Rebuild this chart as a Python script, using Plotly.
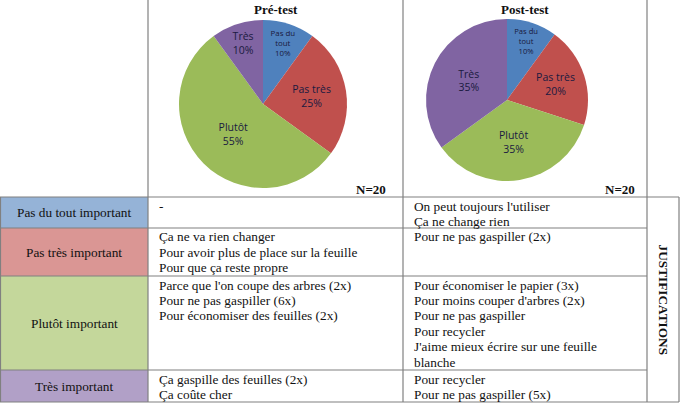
import plotly.graph_objects as go

W, H = 682, 410

# ---- data ----
slice_labels = ["Pas du<br>tout", "Pas très", "Plutôt", "Très"]
pre_values = [10, 25, 55, 10]
post_values = [10, 20, 35, 35]
pie_titles = ["Pré-test", "Post-test"]
n_label = "N=20"

row_labels = ["Pas du tout important", "Pas très important", "Plutôt important", "Très important"]
pre_just = [
    ["-"],
    ["Ça ne va rien changer", "Pour avoir plus de place sur la feuille", "Pour que ça reste propre"],
    ["Parce que l'on coupe des arbres (2x)", "Pour ne pas gaspiller (6x)", "Pour économiser des feuilles (2x)"],
    ["Ça gaspille des feuilles (2x)", "Ça coûte cher"],
]
post_just = [
    ["On peut toujours l'utiliser", "Ça ne change rien"],
    ["Pour ne pas gaspiller (2x)"],
    ["Pour économiser le papier (3x)", "Pour moins couper d'arbres (2x)", "Pour ne pas gaspiller",
     "Pour recycler", "J'aime mieux écrire sur une feuille", "blanche"],
    ["Pour recycler", "Pour ne pas gaspiller (5x)"],
]
side_label = "JUSTIFICATIONS"

# ---- style ----
pie_colors = ["#4F81BD", "#C0504D", "#9BBB59", "#8064A2"]
cell_colors = ["#95B3D7", "#DA9694", "#C4D79B", "#B1A0C7"]
border = "#808080"
serif = "Liberation Serif, Times New Roman, serif"
sans = "Open Sans, Liberation Sans, sans-serif"
txt_size = 13.3

def px(x):
    return x / W

def py(y):
    return 1 - y / H

# layout geometry (pixels)
col_x = [0, 148, 403, 647, 679]
row_y = [197, 228, 276, 370, 402]
line_h = 15.4

fig = go.Figure()

pie_geom = [((179, 347), (20, 188)), ((426, 588), (19, 181))]
for vals, (gx, gy) in zip([pre_values, post_values], pie_geom):
    fig.add_trace(go.Pie(
        values=vals, text=slice_labels, labels=["Pas du tout", "Pas très", "Plutôt", "Très"],
        sort=False, direction="clockwise", rotation=0,
        marker=dict(colors=pie_colors, line=dict(width=0)),
        texttemplate="%{text}<br>%{percent:.0%}", textposition="inside",
        insidetextorientation="horizontal",
        textfont=dict(family=sans, size=10.5, color="#1a1a40"),
        hoverinfo="label+percent", showlegend=False,
        domain=dict(x=[px(gx[0]), px(gx[1])], y=[py(gy[1]), py(gy[0])]),
    ))

shapes = []
annotations = []

# coloured category cells
for i, c in enumerate(cell_colors):
    shapes.append(dict(type="rect", xref="paper", yref="paper",
                       x0=px(col_x[0]), x1=px(col_x[1]), y0=py(row_y[i + 1]), y1=py(row_y[i]),
                       fillcolor=c, line=dict(width=0), layer="below"))
    annotations.append(dict(text=row_labels[i], xref="paper", yref="paper",
                            x=px((col_x[0] + col_x[1]) / 2), y=py((row_y[i] + row_y[i + 1]) / 2),
                            xanchor="center", yanchor="middle", showarrow=False,
                            font=dict(family=serif, size=txt_size, color="#111111")))

# grid lines
def hline(y, x0, x1):
    shapes.append(dict(type="line", xref="paper", yref="paper", x0=px(x0), x1=px(x1),
                       y0=py(y), y1=py(y), line=dict(color=border, width=1.2)))

def vline(x, y0, y1):
    shapes.append(dict(type="line", xref="paper", yref="paper", x0=px(x), x1=px(x),
                       y0=py(y0), y1=py(y1), line=dict(color=border, width=1.2)))

for y in row_y:
    hline(y, col_x[0], col_x[4] if y in (row_y[0], row_y[-1]) else col_x[3])
vline(col_x[0] + 0.5, row_y[0], row_y[-1])
vline(col_x[1], 0, row_y[-1])
vline(col_x[2], 0, row_y[-1])
vline(col_x[3], 0, row_y[-1])
vline(col_x[4], row_y[0], row_y[-1])

# justification text
for lines_set, x0 in [(pre_just, 157), (post_just, 412)]:
    for i, lines in enumerate(lines_set):
        for k, t in enumerate(lines):
            annotations.append(dict(text=t, xref="paper", yref="paper",
                                    x=px(x0), y=py(row_y[i] + 9 + k * line_h),
                                    xanchor="left", yanchor="middle", showarrow=False,
                                    font=dict(family=serif, size=txt_size, color="#111111")))

# side label
annotations.append(dict(text="<b>" + side_label + "</b>", xref="paper", yref="paper",
                        x=px((col_x[3] + col_x[4]) / 2), y=py((row_y[0] + row_y[-1]) / 2),
                        xanchor="center", yanchor="middle", showarrow=False, textangle=90,
                        font=dict(family=serif, size=txt_size, color="#111111")))

# pie titles and N labels
for title, cx in zip(pie_titles, [(col_x[1] + col_x[2]) / 2, (col_x[2] + col_x[3]) / 2]):
    annotations.append(dict(text="<b>" + title + "</b>", xref="paper", yref="paper",
                            x=px(cx), y=py(1), xanchor="center", yanchor="top", showarrow=False,
                            borderpad=0,
                            font=dict(family=serif, size=13, color="#111111")))
for xr in [388, 637]:
    annotations.append(dict(text="<b>" + n_label + "</b>", xref="paper", yref="paper",
                            x=px(xr), y=py(189), xanchor="right", yanchor="middle", showarrow=False,
                            font=dict(family=serif, size=13, color="#111111")))

fig.update_layout(width=W, height=H, margin=dict(l=0, r=0, t=0, b=0),
                  paper_bgcolor="white", plot_bgcolor="white",
                  shapes=shapes, annotations=annotations)

fig.write_html("out.html", config={"displayModeBar": False},
               post_script="document.body.style.margin='0px';")
